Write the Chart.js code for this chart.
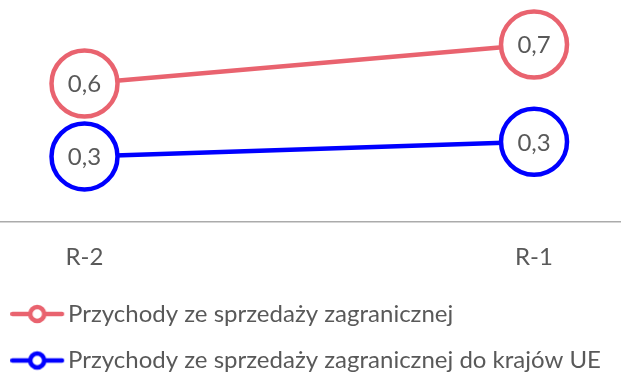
<!DOCTYPE html>
<html>
<head>
<meta charset="utf-8">
<script src="https://cdn.jsdelivr.net/npm/chart.js@4.4.1/dist/chart.umd.min.js"></script>
<style>
    html, body { margin: 0; padding: 0; background: #fff; }
    #wrap { width: 621px; height: 374px; }
</style>
</head>
<body>
<div id="wrap"><canvas id="chart"></canvas></div>
<script>
const categories = ['R-2', 'R-1'];
const seriesNames = [
    'Przychody ze sprzedaży zagranicznej',
    'Przychody ze sprzedaży zagranicznej do krajów UE'
];
const foreignSales = [0.57, 0.73];
const euSales = [0.27, 0.33];

const seriesColors = ['#E9636F', '#0000FF'];
const textColor = '#595959';
const fontFamily = 'Lato, "Open Sans", sans-serif';

// line + ring sample used as the legend symbol
function legendMarker(color) {
    let c = document.createElement('canvas');
    c.width = 58;
    c.height = 24;
    let g = c.getContext('2d');
    g.strokeStyle = color;
    g.lineWidth = 4.5;
    g.lineCap = 'round';
    g.beginPath();
    g.moveTo(2.25, 12);
    g.lineTo(51.75, 12);
    g.stroke();
    g.beginPath();
    g.arc(27, 12, 7, 0, Math.PI * 2);
    g.fillStyle = '#fff';
    g.fill();
    g.stroke();
    return c;
}
const markers = seriesColors.map(legendMarker);

// value written inside each ring, decimal comma
const pointLabels = {
    id: 'pointLabels',
    afterDatasetsDraw(chart) {
        let ctx = chart.ctx;
        ctx.save();
        ctx.font = '24px ' + fontFamily;
        ctx.fillStyle = textColor;
        ctx.textAlign = 'center';
        ctx.textBaseline = 'middle';
        chart.data.datasets.forEach((ds, i) => {
            chart.getDatasetMeta(i).data.forEach((pt, j) => {
                ctx.fillText(ds.data[j].y.toFixed(1).replace('.', ','), pt.x, pt.y + 1);
            });
        });
        ctx.restore();
    }
};

function toPoints(values) {
    return values.map((v, i) => ({ x: i, y: v }));
}

let datasets = [foreignSales, euSales].map((values, i) => ({
    label: seriesNames[i],
    data: toPoints(values),
    borderColor: seriesColors[i],
    backgroundColor: '#fff',
    borderWidth: 4.5,
    pointRadius: 33,
    pointHoverRadius: 33,
    pointBorderWidth: 4.5,
    pointBackgroundColor: '#fff',
    pointBorderColor: seriesColors[i],
    fill: false,
    tension: 0,
    clip: false
}));

new Chart(document.getElementById('chart'), {
    type: 'line',
    data: { datasets: datasets },
    plugins: [pointLabels],
    options: {
        responsive: true,
        maintainAspectRatio: false,
        animation: false,
        layout: {
            autoPadding: false,
            padding: { top: 27.6, left: 0, right: 0, bottom: -8.5 }
        },
        scales: {
            x: {
                type: 'linear',
                min: -0.188,
                max: 1.1935,
                afterBuildTicks: (scale) => {
                    scale.ticks = categories.map((_, i) => ({ value: i }));
                },
                grid: { display: false, drawTicks: false, tickLength: 0 },
                border: { display: true, color: '#ABABAB', width: 1.5 },
                ticks: {
                    padding: 15.25,
                    color: textColor,
                    font: { family: fontFamily, size: 24, lineHeight: 13.5 / 24 },
                    // blank first line pushes the name further below the axis
                    callback: (v) => ['', categories[v] ?? '']
                }
            },
            y: {
                display: false,
                min: 0,
                max: 0.8
            }
        },
        plugins: {
            tooltip: { enabled: false },
            legend: {
                display: true,
                position: 'bottom',
                align: 'start',
                labels: {
                    usePointStyle: true,
                    pointStyleWidth: 33.5,
                    padding: 22.5,
                    color: textColor,
                    font: { family: fontFamily, size: 24 },
                    generateLabels: (chart) => {
                        let items = Chart.defaults.plugins.legend.labels.generateLabels(chart);
                        items.forEach((item, i) => {
                            item.pointStyle = markers[i];
                        });
                        return items;
                    }
                }
            }
        }
    }
});
</script>
</body>
</html>
